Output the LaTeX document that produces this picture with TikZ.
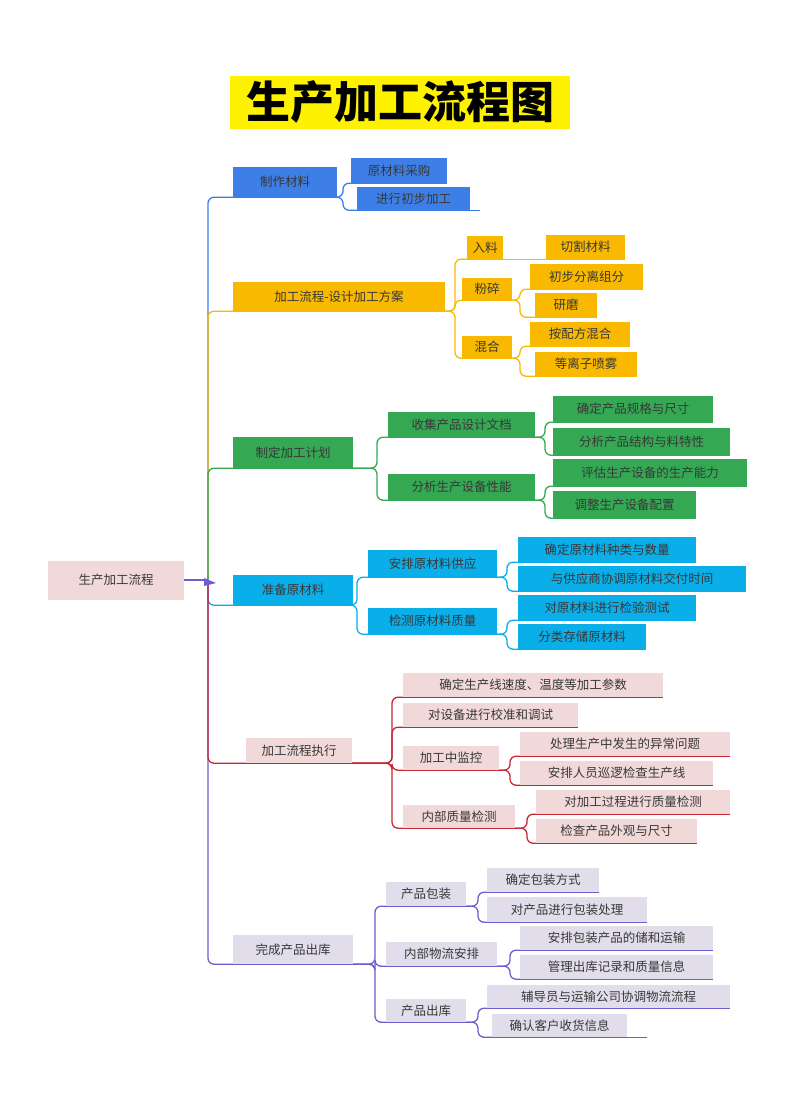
\documentclass[tikz,border=0pt]{standalone}
\usepackage{fontspec}
\setmainfont{Noto Sans CJK SC}
\begin{document}
\begin{tikzpicture}[x=1pt,y=-1pt,
  bx/.style={inner sep=0pt,text=black!78,font=\fontsize{12.5}{14}\selectfont},
  ln/.style={line width=1.3pt,rounded corners=6pt}]
\definecolor{cb}{HTML}{3D7FE6}\definecolor{cy}{HTML}{F9B900}\definecolor{cg}{HTML}{34A853}
\definecolor{cc}{HTML}{0AAEE8}\definecolor{cp}{HTML}{F2D9D9}\definecolor{cr}{HTML}{C62834}
\definecolor{cl}{HTML}{E1DDEA}\definecolor{cv}{HTML}{6B5FD0}\definecolor{ct}{HTML}{FFF200}
\fill[white] (0,0) rectangle (800,1109);
\newcommand\bx[8]{\node[bx,fill=#6,minimum width={#4-#2},minimum height={#5-#3}] (#1) at ({(#2+#4)/2},{(#3+#5)/2}) {#8};
  \draw[ln,#7] (#1.south west) -- (#1.south east);}
\newcommand\cn[4]{\coordinate (j) at (#3,0);\draw[ln,#1] (#2.south east) -- (j |- #2.south east) |- (#4.south west);}
% title
\node[fill=ct,minimum width=340,minimum height=53,inner sep=0pt,font=\fontsize{44}{48}\selectfont\bfseries] (title) at (400,102) {生产加工流程图};
% root
\node[bx,fill=cp,minimum width=136,minimum height=39] (root) at (116,580) {生产加工流程};
\coordinate (sp) at (208,580);
% level1
\bx{a}{233}{167}{337}{197}{cb}{cb}{制作材料}
\bx{b}{233}{282}{445}{311}{cy}{cy}{加工流程-设计加工方案}
\bx{c}{233}{437}{353}{468}{cg}{cg}{制定加工计划}
\bx{d}{233}{575}{353}{605}{cc}{cc}{准备原材料}
\bx{e}{246}{738}{352}{763}{cp}{cr}{加工流程执行}
\bx{f}{233}{935}{353}{964}{cl}{cv}{完成产品出库}
\draw[ln,cb] (sp) |- (a.south west);
\draw[ln,cy] (sp) |- (b.south west);
\draw[ln,cg] (sp) |- (c.south west);
\draw[ln,cc] (sp) |- (d.south west);
\draw[ln,cv] (sp) |- (f.south west);
\draw[ln,cr] (sp) |- (e.south west);
\draw[line width=1.3pt,cv] (root.east) -- (sp);
\fill[cv] (204,578) -- (216,583) -- (204,586) -- cycle;
% blue
\bx{a1}{351}{158}{447}{183}{cb}{cb}{原材料采购}
\bx{a2}{357}{187}{470}{210}{cb}{cb}{进行初步加工}
\draw[ln,cb] (a2.south east) -- ++(10,0);
\cn{cb}{a}{343}{a1}\cn{cb}{a}{343}{a2}
% yellow
\bx{b1}{467}{236}{503}{259}{cy}{cy}{入料}
\bx{b11}{546}{235}{625}{259}{cy}{cy}{切割材料}
\draw[ln,cy] (b1.south east) -- (b11.south west);
\bx{b2}{462}{278}{512}{300}{cy}{cy}{粉碎}
\bx{b21}{530}{264}{643}{289}{cy}{cy}{初步分离组分}
\bx{b22}{535}{293}{597}{317}{cy}{cy}{研磨}
\bx{b3}{462}{336}{512}{358}{cy}{cy}{混合}
\bx{b31}{530}{322}{630}{346}{cy}{cy}{按配方混合}
\bx{b32}{535}{352}{637}{376}{cy}{cy}{等离子喷雾}
\cn{cy}{b}{455}{b1}\cn{cy}{b}{455}{b2}\cn{cy}{b}{455}{b3}
\cn{cy}{b2}{520}{b21}\cn{cy}{b2}{520}{b22}
\cn{cy}{b3}{520}{b31}\cn{cy}{b3}{520}{b32}
% green
\bx{c1}{388}{412}{535}{437}{cg}{cg}{收集产品设计文档}
\bx{c2}{388}{474}{535}{500}{cg}{cg}{分析生产设备性能}
\bx{c11}{553}{396}{713}{422}{cg}{cg}{确定产品规格与尺寸}
\bx{c12}{553}{428}{730}{455}{cg}{cg}{分析产品结构与料特性}
\bx{c21}{553}{459}{747}{486}{cg}{cg}{评估生产设备的生产能力}
\bx{c22}{553}{491}{696}{518}{cg}{cg}{调整生产设备配置}
\cn{cg}{c}{377}{c1}\cn{cg}{c}{377}{c2}
\cn{cg}{c1}{545}{c11}\cn{cg}{c1}{545}{c12}
\cn{cg}{c2}{545}{c21}\cn{cg}{c2}{545}{c22}
% cyan
\bx{d1}{368}{550}{497}{577}{cc}{cc}{安排原材料供应}
\bx{d2}{368}{608}{497}{634}{cc}{cc}{检测原材料质量}
\bx{d11}{518}{537}{696}{562}{cc}{cc}{确定原材料种类与数量}
\bx{d12}{518}{566}{746}{591}{cc}{cc}{与供应商协调原材料交付时间}
\bx{d21}{518}{595}{696}{620}{cc}{cc}{对原材料进行检验测试}
\bx{d22}{518}{624}{646}{649}{cc}{cc}{分类存储原材料}
\cn{cc}{d}{357}{d1}\cn{cc}{d}{357}{d2}
\cn{cc}{d1}{507}{d11}\cn{cc}{d1}{507}{d12}
\cn{cc}{d2}{507}{d21}\cn{cc}{d2}{507}{d22}
% red
\bx{e1}{403}{673}{663}{697}{cp}{cr}{确定生产线速度、温度等加工参数}
\bx{e2}{403}{703}{578}{727}{cp}{cr}{对设备进行校准和调试}
\bx{e3}{403}{746}{499}{770}{cp}{cr}{加工中监控}
\bx{e4}{403}{805}{515}{828}{cp}{cr}{内部质量检测}
\bx{e31}{520}{732}{730}{756}{cp}{cr}{处理生产中发生的异常问题}
\bx{e32}{520}{761}{713}{785}{cp}{cr}{安排人员巡逻检查生产线}
\bx{e41}{536}{790}{730}{814}{cp}{cr}{对加工过程进行质量检测}
\bx{e42}{536}{819}{697}{843}{cp}{cr}{检查产品外观与尺寸}
\cn{cr}{e}{392}{e1}\cn{cr}{e}{392}{e2}\cn{cr}{e}{392}{e3}\cn{cr}{e}{392}{e4}
\cn{cr}{e3}{510}{e31}\cn{cr}{e3}{510}{e32}
\cn{cr}{e4}{527}{e41}\cn{cr}{e4}{527}{e42}
% purple
\bx{f1}{386}{882}{466}{906}{cl}{cv}{产品包装}
\bx{f2}{386}{942}{497}{966}{cl}{cv}{内部物流安排}
\bx{f3}{386}{999}{466}{1022}{cl}{cv}{产品出库}
\bx{f11}{487}{868}{599}{892}{cl}{cv}{确定包装方式}
\bx{f12}{487}{897}{647}{922}{cl}{cv}{对产品进行包装处理}
\bx{f21}{520}{926}{713}{950}{cl}{cv}{安排包装产品的储和运输}
\bx{f22}{520}{955}{713}{979}{cl}{cv}{管理出库记录和质量信息}
\bx{f31}{487}{985}{730}{1008}{cl}{cv}{辅导员与运输公司协调物流流程}
\bx{f32}{492}{1014}{627}{1037}{cl}{cv}{确认客户收货信息}
\draw[ln,cv] (f32.south east) -- ++(20,0);
\cn{cv}{f}{375}{f1}\cn{cv}{f}{375}{f2}\cn{cv}{f}{375}{f3}
\cn{cv}{f1}{478}{f11}\cn{cv}{f1}{478}{f12}
\cn{cv}{f2}{510}{f21}\cn{cv}{f2}{510}{f22}
\cn{cv}{f3}{478}{f31}\cn{cv}{f3}{478}{f32}
\end{tikzpicture}
\end{document}
